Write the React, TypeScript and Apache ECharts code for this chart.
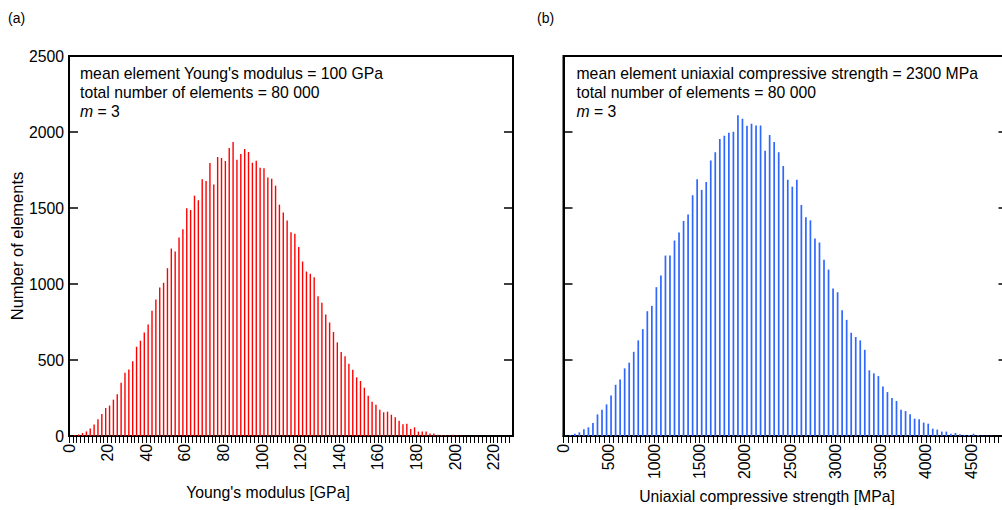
import React, { useEffect, useRef } from "react";
import * as echarts from "echarts";

// Histogram of element Young's modulus, bins of 2 GPa (counts per bin, first bin 0–2 GPa)
const youngBinWidth = 2;
const youngCounts: number[] = [
  2, 5, 10, 20, 30, 50, 75, 110, 145, 184,
  200, 239, 274, 351, 416, 438, 491, 587, 627, 681,
  734, 824, 898, 977, 1008, 1104, 1233, 1214, 1306, 1360,
  1498, 1487, 1581, 1551, 1689, 1678, 1796, 1654, 1835, 1829,
  1809, 1895, 1934, 1818, 1855, 1888, 1868, 1798, 1811, 1765,
  1761, 1700, 1693, 1647, 1522, 1470, 1417, 1341, 1330, 1244,
  1148, 1082, 1067, 1045, 920, 876, 800, 747, 684, 616,
  552, 524, 475, 436, 386, 362, 318, 265, 226, 206,
  173, 156, 160, 140, 123, 101, 77, 81, 46, 57,
  29, 29, 29, 16, 16, 9, 7, 5, 3, 9,
  3, 2, 1, 0, 0, 1, 0, 0, 2, 0,
  1, 0, 0, 0, 0,
];

// Histogram of element uniaxial compressive strength, bins of 50 MPa
const ucsBinWidth = 50;
const ucsCounts: number[] = [
  2, 5, 15, 24, 45, 57, 86, 142, 173, 208,
  267, 337, 372, 445, 482, 554, 629, 703, 821, 856,
  979, 1056, 1187, 1187, 1286, 1338, 1415, 1457, 1584, 1689,
  1619, 1671, 1813, 1866, 1954, 1976, 1995, 2002, 2111, 2087,
  2041, 2054, 2043, 2043, 1877, 1980, 1934, 1866, 1776, 1686,
  1640, 1686, 1520, 1439, 1419, 1299, 1273, 1159, 1095, 970,
  946, 828, 764, 679, 651, 629, 567, 432, 412, 394,
  326, 289, 250, 230, 173, 164, 143, 114, 110, 88,
  81, 48, 42, 29, 29, 15, 20, 11, 7, 7,
  15, 7, 2, 1, 2, 0, 0, 0,
];

const youngAxis = { min: 0, max: 230, step: 2, labelEvery: 20 };
const ucsAxis = { min: 0, max: 4900, step: 50, labelEvery: 500 };
const countAxis = { min: 0, max: 2500, interval: 500 };

const youngNotes = ["mean element Young's modulus = 100 GPa", "total number of elements = 80 000"];
const ucsNotes = ["mean element uniaxial compressive strength = 2300 MPa", "total number of elements = 80 000"];

const FONT = "'Liberation Sans', Arial, Helvetica, sans-serif";
const FS = 15.75;
const BLACK = "#000000";

function binPairs(counts: number[], width: number): [number, number][] {
  return counts.map((c, i) => [width * i + width / 2, c]);
}

function xAxisFor(gridIndex: number, ax: { min: number; max: number; step: number; labelEvery: number }) {
  return {
    type: "value" as const,
    gridIndex,
    min: ax.min,
    max: ax.max,
    interval: ax.step,
    splitLine: { show: false },
    axisLine: { show: true, lineStyle: { color: BLACK, width: 2 } },
    axisTick: { show: true, inside: false, length: 7, lineStyle: { color: BLACK, width: 1 } },
    axisLabel: {
      show: true,
      rotate: 90,
      margin: 8,
      color: BLACK,
      fontFamily: FONT,
      fontSize: FS,
      showMaxLabel: false,
      formatter: (v: number) => (v % ax.labelEvery === 0 && v < ax.max ? String(v) : ""),
    },
  };
}

function yAxisFor(gridIndex: number, position: "left" | "right", labels: boolean) {
  return {
    type: "value" as const,
    gridIndex,
    position,
    min: countAxis.min,
    max: countAxis.max,
    interval: countAxis.interval,
    splitLine: { show: false },
    axisLine: { show: true, lineStyle: { color: BLACK, width: 2 } },
    axisTick: { show: true, inside: true, length: 9, lineStyle: { color: BLACK, width: 1.5 } },
    axisLabel: {
      show: labels,
      margin: 5,
      color: BLACK,
      fontFamily: FONT,
      fontSize: FS,
      formatter: (v: number) => String(v),
    },
  };
}

function noteTexts(x: number, lines: string[]) {
  const els: any[] = lines.map((t, i) => ({
    type: "text",
    x,
    y: 73 + i * 19,
    style: { text: t, font: `${FS}px ${FONT}`, fill: BLACK, verticalAlign: "middle", align: "left" },
  }));
  els.push({
    type: "text",
    x,
    y: 111,
    style: {
      text: "{i|m} = 3",
      font: `${FS}px ${FONT}`,
      fill: BLACK,
      verticalAlign: "middle",
      align: "left",
      rich: { i: { fontStyle: "italic", fontFamily: FONT, fontSize: FS } },
    },
  });
  return els;
}

export default function App() {
  const ref = useRef<HTMLDivElement>(null);

  useEffect(() => {
    if (!ref.current) return;
    const chart = echarts.init(ref.current, undefined, { renderer: "svg" });

    const gridBase = { top: 56, height: 380, width: 444, show: true, borderColor: BLACK, borderWidth: 2, backgroundColor: "transparent" };

    chart.setOption({
      animation: false,
      backgroundColor: "#ffffff",
      grid: [
        { ...gridBase, left: 69 },
        { ...gridBase, left: 563.5 },
      ],
      xAxis: [xAxisFor(0, youngAxis), xAxisFor(1, ucsAxis)],
      yAxis: [
        yAxisFor(0, "left", true),
        yAxisFor(0, "right", false),
        yAxisFor(1, "left", false),
        yAxisFor(1, "right", false),
      ],
      series: [
        {
          type: "bar",
          xAxisIndex: 0,
          yAxisIndex: 0,
          barWidth: 1.4,
          itemStyle: { color: "#ff0000" },
          data: binPairs(youngCounts, youngBinWidth),
        },
        {
          type: "bar",
          xAxisIndex: 1,
          yAxisIndex: 2,
          barWidth: 1.7,
          itemStyle: { color: "#2f67ff" },
          data: binPairs(ucsCounts, ucsBinWidth),
        },
      ],
      graphic: [
        { type: "text", x: 8, y: 18, style: { text: "(a)", font: `14px ${FONT}`, fill: BLACK, verticalAlign: "middle" } },
        { type: "text", x: 537, y: 18, style: { text: "(b)", font: `14px ${FONT}`, fill: BLACK, verticalAlign: "middle" } },
        ...noteTexts(80, youngNotes),
        ...noteTexts(576.5, ucsNotes),
        {
          type: "text",
          x: 268,
          y: 492,
          style: { text: "Young's modulus [GPa]", font: `${FS}px ${FONT}`, fill: BLACK, align: "center", verticalAlign: "middle" },
        },
        {
          type: "text",
          x: 767,
          y: 496,
          style: { text: "Uniaxial compressive strength [MPa]", font: `${FS}px ${FONT}`, fill: BLACK, align: "center", verticalAlign: "middle" },
        },
        {
          type: "text",
          x: 17,
          y: 246,
          rotation: Math.PI / 2,
          style: { text: "Number of elements", font: `16.5px ${FONT}`, fill: BLACK, align: "center", verticalAlign: "middle" },
        },
      ],
    });

    return () => chart.dispose();
  }, []);

  return (
    <div style={{ position: "fixed", left: 0, top: 0, width: 1002, height: 510, overflow: "hidden", background: "#fff" }}>
      <div ref={ref} style={{ width: 1012, height: 510 }} />
    </div>
  );
}
